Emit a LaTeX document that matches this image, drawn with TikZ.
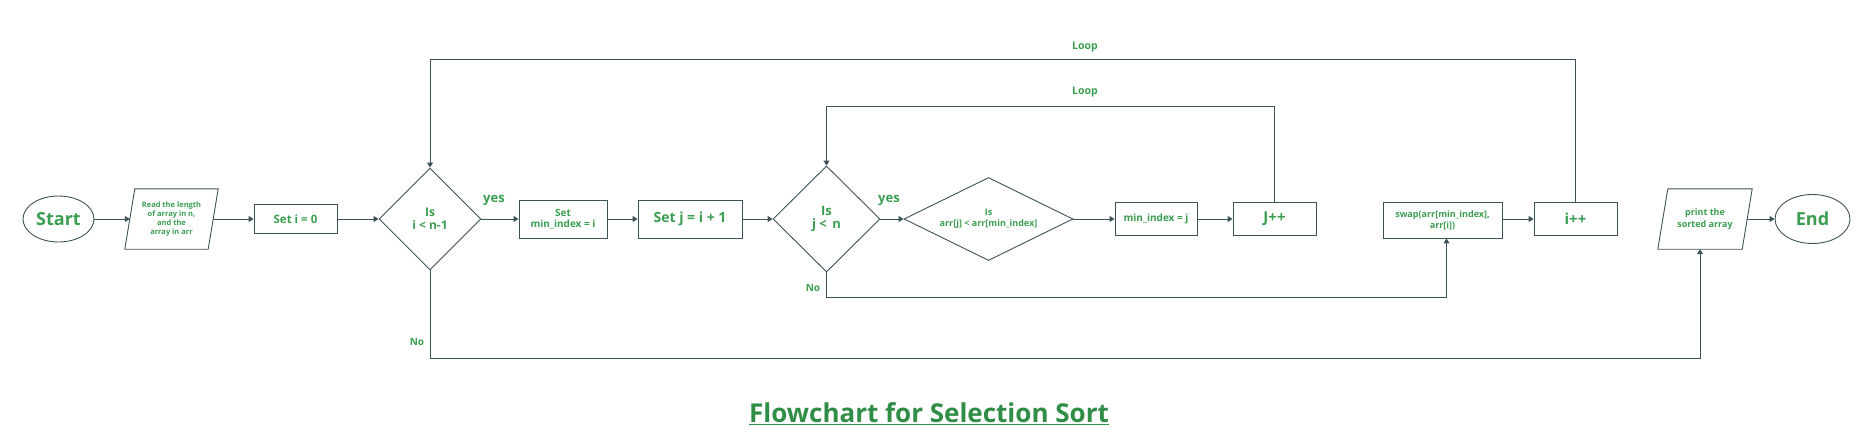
\documentclass[tikz,border=0pt]{standalone}
\usepackage{fontspec}
\setmainfont{Open Sans}
\usetikzlibrary{arrows.meta,shapes.geometric}
\definecolor{txtgreen}{RGB}{58,158,80}
\definecolor{titlegreen}{RGB}{47,141,70}
\definecolor{edgecol}{RGB}{62,82,90}
\newcommand{\fsz}[2]{\fontsize{#1}{#2}\selectfont\bfseries}
\begin{document}
\begin{tikzpicture}[x=1pt,y=-1pt,
  base/.style={draw=edgecol,line width=0.9pt,text=txtgreen,align=center,inner sep=0pt},
  box/.style={base,rectangle},
  term/.style={base,ellipse},
  dec/.style={base,diamond,aspect=2},
  iobox/.style={rectangle,text=txtgreen,align=center,inner sep=0pt},
  arr/.style={draw=edgecol,line width=1pt,-{Triangle[width=6pt,length=5pt]}},
  lbl/.style={text=txtgreen,inner sep=0pt}
]
\useasboundingbox (0,0) rectangle (1865,442);

% terminals
\node[term,minimum width=71pt,minimum height=46pt,font=\fsz{18}{20}] (start) at (58.5,219) {Start};
\node[term,minimum width=75pt,minimum height=49pt,font=\fsz{18}{20}] (end) at (1812.5,219) {End};

% parallelograms (input / output)
\node[iobox,minimum width=93pt,minimum height=60pt,font=\fsz{7.5}{9.3}] (read) at (171.5,219)
  {Read the length\\of array in n,\\and the\\array in arr};
\draw[edgecol,line width=0.9pt] ([xshift=10pt]read.north west) -- (read.north east)
  -- ([xshift=-10pt]read.south east) -- (read.south west) -- cycle;
\coordinate (readin) at ([xshift=5pt]read.west);
\coordinate (readout) at ([xshift=-5pt]read.east);

\node[iobox,minimum width=94pt,minimum height=60pt,font=\fsz{9}{11.7}] (print) at (1705,219)
  {print the\\sorted array};
\draw[edgecol,line width=0.9pt] ([xshift=10pt]print.north west) -- (print.north east)
  -- ([xshift=-10pt]print.south east) -- (print.south west) -- cycle;
\coordinate (printin) at ([xshift=-5pt]print.south);
\coordinate (printout) at ([xshift=-5pt]print.east);

% process boxes
\node[box,minimum width=83pt,minimum height=29pt,font=\fsz{11.5}{13}] (seti) at (295.5,219) {Set i = 0};
\node[box,minimum width=88pt,minimum height=38pt,font=\fsz{10}{11}] (setmin) at (563,219) {Set\\min\_index = i};
\node[box,minimum width=104pt,minimum height=38pt,font=\fsz{14}{16}] (setj) at (690,219) {Set j = i + 1};
\node[box,minimum width=82pt,minimum height=33pt,font=\fsz{10}{12}] (minj) at (1156,219) {min\_index = j};
\node[box,minimum width=83pt,minimum height=33pt,font=\fsz{15}{17}] (jpp) at (1274.5,219) {J++};
\node[box,minimum width=119pt,minimum height=36pt,font=\fsz{9}{11.3}] (swap) at (1442.5,220) {swap(arr[min\_index],\\arr[i])};
\node[box,minimum width=83pt,minimum height=33pt,font=\fsz{15}{17}] (ipp) at (1575.5,219) {i++};

% decisions
\node[dec,minimum width=102pt,minimum height=102pt,font=\fsz{12}{13}] (d1) at (430,219) {Is\\i < n-1};
\node[dec,minimum width=107pt,minimum height=106pt,font=\fsz{13}{13.5}] (d2) at (826.5,219) {Is\\j <\, n};
\node[dec,minimum width=169pt,minimum height=83pt,font=\fsz{9}{10.7}] (d3) at (988.5,219) {Is\\arr[j] < arr[min\_index]};

% main flow
\draw[arr] (start) -- (readin);
\draw[arr] (readout) -- (seti);
\draw[arr] (seti) -- (d1);
\draw[arr] (d1) -- (setmin);
\draw[arr] (setmin) -- (setj);
\draw[arr] (setj) -- (d2);
\draw[arr] (d2) -- (d3);
\draw[arr] (d3) -- (minj);
\draw[arr] (minj) -- (jpp);
\draw[arr] ([yshift=1pt]swap.east) -- ([yshift=1pt]swap.east -| ipp.west);
\draw[arr] (printout) -- (end);

% loops
\draw[arr] (jpp.north) -- (1274.5,106) -| (d2.north);
\draw[arr] (ipp.north) -- (1575.5,59) -| (d1.north);

% No branches
\draw[arr] (d2.south) -- (826.5,297) -| ([xshift=4pt]swap.south);
\draw[arr] (d1.south) -- (430,358) -| (printin);

% labels
\node[lbl,font=\fsz{13}{14}] (yes1) at (494,200) {yes};
\node[lbl,font=\fsz{13}{14}] (yes2) at (889,200) {yes};
\node[lbl,font=\fsz{10}{12}] (no2) at (813,288) {No};
\node[lbl,font=\fsz{10}{12}] (no1) at (417,342) {No};
\node[lbl,font=\fsz{10.5}{12}] (loop1) at (1085,47) {Loop};
\node[lbl,font=\fsz{10.5}{12}] (loop2) at (1085,92) {Loop};

% title
\node[text=titlegreen,inner sep=0pt,anchor=base,font=\fsz{26}{29}] (title) at (929,422) {Flowchart for Selection Sort};
\draw[titlegreen,line width=1.3pt] ([yshift=-2.5pt]title.base west) -- ([yshift=-2.5pt]title.base east);
\end{tikzpicture}
\end{document}
